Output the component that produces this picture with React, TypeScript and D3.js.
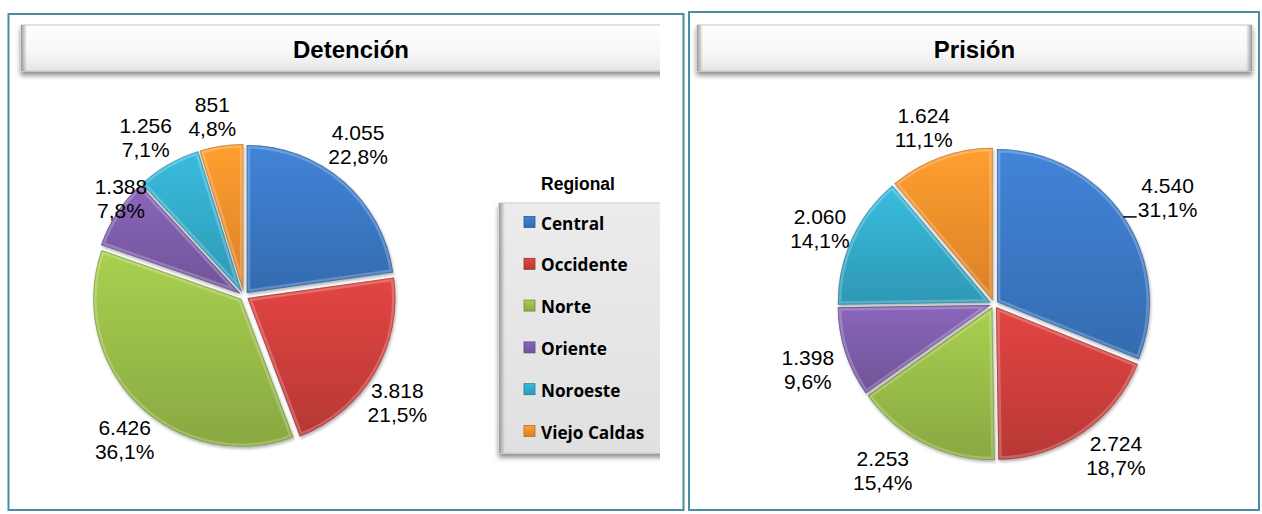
import React from 'react';
import * as d3 from 'd3';

const categories = ['Central', 'Occidente', 'Norte', 'Oriente', 'Noroeste', 'Viejo Caldas'];
const detencionValues = [4055, 3818, 6426, 1388, 1256, 851];
const prisionValues = [4540, 2724, 2253, 1398, 2060, 1624];
const chartTitles = ['Detención', 'Prisión'];
const legendTitle = 'Regional';

const colors = ['#3a77c3', '#cc3e3b', '#98bb48', '#7c5ca8', '#33a9c8', '#f38f2b'];

// label layout (angle shift in degrees from slice mid-angle, distance as multiple of radius)
const detLabelShift = [-4, 4, -4.5, 5, -1.9, -1.4];
const detLabelDist = [1.28, 1.26, 1.26, 1.06, 1.26, 1.23];
const priLabelShift = [2.6, -4.4, 6.8, -1.3, -1.1, -1.7];
const priLabelDist = [1.33, 1.27, 1.31, 1.29, 1.24, 1.24];

const loc = d3.formatLocale({ decimal: ',', thousands: '.', grouping: [3], currency: ['', ''] });
const fmtNum = loc.format(',d');
const fmtPct = loc.format('.1%');

const FONT = "'Liberation Sans', Arial, sans-serif";

type PieProps = {
  id: string;
  values: number[];
  cx: number;
  cy: number;
  r: number;
  labelShift: number[];
  labelDist: number[];
  explode: number;
  leaderIndex?: number;
};

function Pie({ id, values, cx, cy, r, labelShift, labelDist, explode, leaderIndex }: PieProps) {
  const total = d3.sum(values);
  const arcs = d3.pie<number>().sort(null).value((d) => d)(values);
  const arcGen = d3.arc<d3.PieArcDatum<number>>().innerRadius(0).outerRadius(r);
  return (
    <g>
      {arcs.map((a, i) => {
        const mid = (a.startAngle + a.endAngle) / 2;
        const ox = Math.sin(mid) * explode;
        const oy = -Math.cos(mid) * explode;
        const path = arcGen(a) || '';
        const clipId = `${id}-clip-${i}`;
        return (
          <g key={i} transform={`translate(${cx + ox},${cy + oy})`}>
            <clipPath id={clipId}>
              <path d={path} />
            </clipPath>
            <path d={path} fill={`url(#grad-${i})`} filter="url(#pieShadow)" />
            <g clipPath={`url(#${clipId})`}>
              <path d={path} fill="none" stroke="#ffffff" strokeOpacity={0.22} strokeWidth={7} />
              <path d={path} fill="none" stroke={d3.color(colors[i])!.darker(1).toString()} strokeOpacity={0.5} strokeWidth={2} />
            </g>
          </g>
        );
      })}
      {arcs.map((a, i) => {
        const mid = (a.startAngle + a.endAngle) / 2 + (labelShift[i] * Math.PI) / 180;
        const lr = r * labelDist[i];
        const lx = cx + Math.sin(mid) * lr;
        const ly = cy - Math.cos(mid) * lr;
        let leader = null;
        if (leaderIndex === i) {
          const y = ly + 19;
          const x0 = cx + Math.sqrt(r * r - (y - cy) * (y - cy)) + explode;
          leader = <line x1={x0} x2={lx - 31} y1={y} y2={y} stroke="#000" strokeWidth={1.5} />;
        }
        return (
          <g key={`l${i}`}>
            {leader}
            <text x={lx} y={ly - 12} textAnchor="middle" dominantBaseline="central" fontFamily={FONT} fontSize={21} fill="#000">
              {fmtNum(values[i])}
            </text>
            <text x={lx} y={ly + 12} textAnchor="middle" dominantBaseline="central" fontFamily={FONT} fontSize={21} fill="#000">
              {fmtPct(values[i] / total)}
            </text>
          </g>
        );
      })}
    </g>
  );
}

function TitleBox({ x, y, w, h, text }: { x: number; y: number; w: number; h: number; text: string }) {
  return (
    <g>
      <rect x={x} y={y} width={w} height={h} fill="url(#titleGrad)" stroke="#c9c9c9" strokeWidth={1} filter="url(#boxShadow)" />
      <rect x={x} y={y} width={6} height={h} fill="url(#edgeL)" />
      <rect x={x + w - 6} y={y} width={6} height={h} fill="url(#edgeR)" />
      <text x={x + w / 2} y={y + h / 2 + 1} textAnchor="middle" dominantBaseline="central" fontFamily={FONT} fontWeight="bold" fontSize={24} fill="#000">
        {text}
      </text>
    </g>
  );
}

export default function App() {
  const W = 1262;
  const H = 514;
  return (
    <svg width={W} height={H} style={{ position: 'absolute', left: 0, top: 0, background: '#fff' }}>
      <defs>
        {colors.map((c, i) => (
          <linearGradient key={i} id={`grad-${i}`} x1="0" y1="0" x2="0" y2="1">
            <stop offset="0" stopColor={d3.color(c)!.brighter(0.3).toString()} />
            <stop offset="1" stopColor={d3.color(c)!.darker(0.3).toString()} />
          </linearGradient>
        ))}
        <linearGradient id="titleGrad" x1="0" y1="0" x2="0" y2="1">
          <stop offset="0" stopColor="#ffffff" />
          <stop offset="0.6" stopColor="#f7f7f7" />
          <stop offset="1" stopColor="#e6e6e6" />
        </linearGradient>
        <linearGradient id="legendGrad" x1="0" y1="0" x2="0" y2="1">
          <stop offset="0" stopColor="#ececec" />
          <stop offset="1" stopColor="#e0e0e0" />
        </linearGradient>
        <linearGradient id="edgeL" x1="0" y1="0" x2="1" y2="0">
          <stop offset="0" stopColor="#9a9a9a" />
          <stop offset="1" stopColor="#9a9a9a" stopOpacity={0} />
        </linearGradient>
        <linearGradient id="edgeR" x1="0" y1="0" x2="1" y2="0">
          <stop offset="0" stopColor="#9a9a9a" stopOpacity={0} />
          <stop offset="1" stopColor="#9a9a9a" />
        </linearGradient>
        <filter id="boxShadow" x="-5%" y="-20%" width="110%" height="160%">
          <feDropShadow dx={0} dy={4} stdDeviation={2.5} floodColor="#000" floodOpacity={0.45} />
        </filter>
        <filter id="pieShadow" x="-20%" y="-20%" width="140%" height="140%">
          <feDropShadow dx={1} dy={2} stdDeviation={1.5} floodColor="#000" floodOpacity={0.3} />
        </filter>
        <clipPath id="leftClip">
          <rect x={9} y={15} width={651} height={494} />
        </clipPath>
      </defs>

      {/* Panel borders */}
      <rect x={8.5} y={14} width={675} height={496} fill="none" stroke="#4a8ea3" strokeWidth={2} />
      <rect x={689} y={12} width={570} height={498} fill="none" stroke="#4a8ea3" strokeWidth={2} />

      {/* Left chart */}
      <g clipPath="url(#leftClip)">
        <TitleBox x={21} y={25} w={660} h={46} text={chartTitles[0]} />
        <Pie id="det" values={detencionValues} cx={244} cy={296} r={148} labelShift={detLabelShift} labelDist={detLabelDist} explode={4} />
        {/* Legend */}
        <text x={578} y={184} textAnchor="middle" dominantBaseline="central" fontFamily={FONT} fontWeight="bold" fontSize={17.5} fill="#000">
          {legendTitle}
        </text>
        <rect x={499} y={203} width={200} height={250} fill="url(#legendGrad)" stroke="#cfcfcf" filter="url(#boxShadow)" />
        <rect x={499} y={203} width={6} height={250} fill="url(#edgeL)" />
        {categories.map((c, i) => {
          const y = 222 + i * 41.8;
          return (
            <g key={c}>
              <rect x={524} y={y - 5.5} width={11} height={11} fill={`url(#grad-${i})`} stroke={d3.color(colors[i])!.darker(0.8).toString()} strokeWidth={0.8} />
              <text x={541} y={y + 1} dominantBaseline="central" fontFamily="'Open Sans', sans-serif" fontWeight="bold" fontSize={17.2} fill="#000">
                {c}
              </text>
            </g>
          );
        })}
      </g>

      {/* Right chart */}
      <TitleBox x={697} y={25} w={555} h={46} text={chartTitles[1]} />
      <Pie id="pri" values={prisionValues} cx={994} cy={304} r={153} labelShift={priLabelShift} labelDist={priLabelDist} explode={3.5} leaderIndex={0} />
    </svg>
  );
}
